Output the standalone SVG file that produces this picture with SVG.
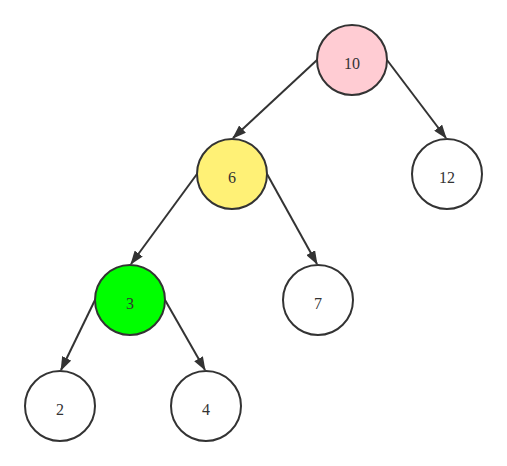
<svg xmlns="http://www.w3.org/2000/svg" width="507" height="466" viewBox="0 0 507 466">
<style>
.n{stroke:#333;stroke-width:2}
.t{font-family:"Liberation Serif",serif;font-size:16px;fill:#333;text-anchor:middle;dominant-baseline:central}
.e{stroke:#333;stroke-width:2;fill:none;marker-end:url(#a)}
</style>
<defs>
<marker id="a" viewBox="0 0 14 10" refX="13" refY="5" markerWidth="14" markerHeight="10" markerUnits="userSpaceOnUse" orient="auto">
<path d="M0,0 L14,5 L0,10 Z" fill="#333"/>
</marker>
</defs>
<rect width="507" height="466" fill="#fff"/>
<g id="edges">
<line class="e" x1="317" y1="60" x2="233" y2="138"/>
<line class="e" x1="387" y1="60" x2="446" y2="138"/>
<line class="e" x1="197" y1="174" x2="131" y2="264"/>
<line class="e" x1="267" y1="174" x2="317" y2="264"/>
<line class="e" x1="95" y1="300" x2="61" y2="370"/>
<line class="e" x1="165" y1="300" x2="205" y2="370"/>
</g>
<g id="n10"><circle class="n" cx="352" cy="60" r="35" fill="#ffccd3"/><text class="t" x="352" y="63">10</text></g>
<g id="n6"><circle class="n" cx="232" cy="174" r="35" fill="#fff176"/><text class="t" x="232" y="177">6</text></g>
<g id="n12"><circle class="n" cx="447" cy="174" r="35" fill="#fff"/><text class="t" x="447" y="177">12</text></g>
<g id="n3"><circle class="n" cx="130" cy="300" r="35" fill="#00ff00"/><text class="t" x="130" y="303">3</text></g>
<g id="n7"><circle class="n" cx="318" cy="300" r="35" fill="#fff"/><text class="t" x="318" y="303">7</text></g>
<g id="n2"><circle class="n" cx="60" cy="406" r="35" fill="#fff"/><text class="t" x="60" y="409">2</text></g>
<g id="n4"><circle class="n" cx="206" cy="406" r="35" fill="#fff"/><text class="t" x="206" y="409">4</text></g>
</svg>
